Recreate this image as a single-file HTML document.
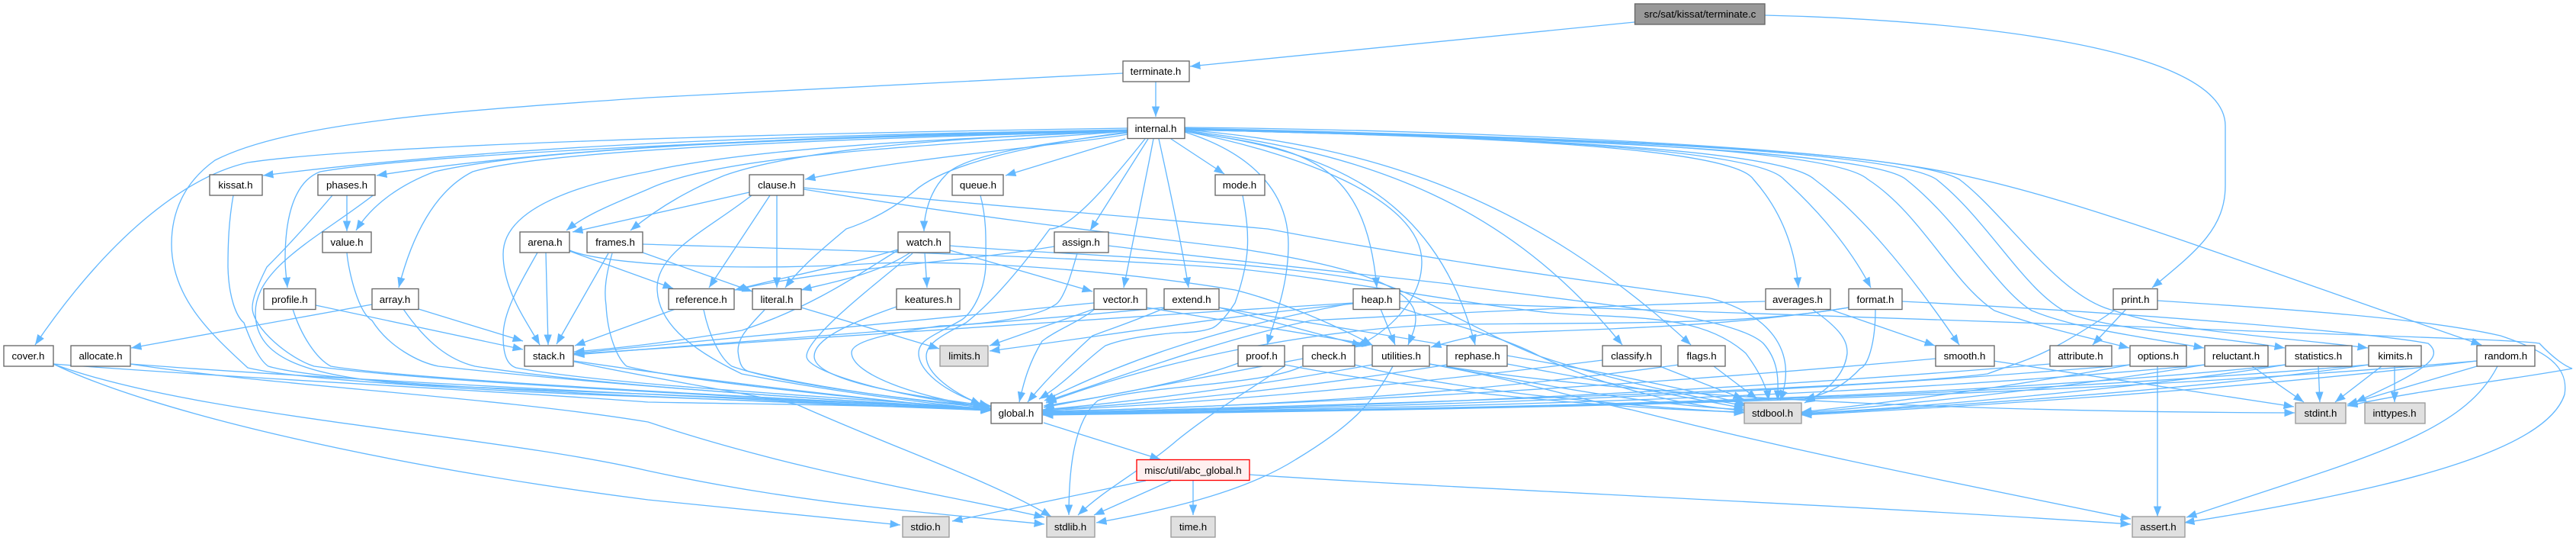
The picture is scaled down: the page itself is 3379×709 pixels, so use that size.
<!DOCTYPE html>
<html><head><meta charset="utf-8"><style>
html,body{margin:0;padding:0;background:#fff}
svg{display:block}
.e path{fill:none;stroke:#63b8ff;stroke-width:1.33;marker-end:url(#a)}
.n rect{fill:#fff;stroke:#666;stroke-width:1.33}
.n rect.g{fill:#e0e0e0;stroke:#999}
.n rect.r{fill:#999;stroke:#666}
.n rect.x{fill:#fff0f0;stroke:#f00}
.n text{font:13.33px "Liberation Sans",sans-serif;text-anchor:middle;fill:#000}
</style></head><body>
<svg xmlns="http://www.w3.org/2000/svg" width="3379" height="709" viewBox="0 0 3379 709">
<defs><marker id="a" markerUnits="userSpaceOnUse" markerWidth="14" markerHeight="11" refX="13.5" refY="5.2" orient="auto"><polygon points="0,0 13.5,5.2 0,10.4" fill="#63b8ff"/></marker></defs>
<g class="e">
<path d="M2144 29L1561 87"/>
<path d="M2315 20C2500 24 2919 50 2919 165L2919 243C2919 300 2880 330 2823 377"/>
<path d="M1473 96L850 128C600 145 380 160 282 210C240 240 225 280 225 320C225 390 276 437 325 482C400 500 700 515 850 520C1000 525 1150 530 1300 537"/>
<path d="M1516 107L1516 153"/>
<path d="M1479 168C1000 175 480 190 325 213C250 230 150 300 46 452"/>
<path d="M1479 170C1150 176 720 183 345 230"/>
<path d="M1479 171C1150 176 760 188 494 230"/>
<path d="M1479 171C1150 176 560 200 420 225C380 240 374 300 374 340C374 355 376 365 377 377"/>
<path d="M1479 172C1150 178 720 190 570 225C530 240 490 265 467 302"/>
<path d="M1479 172C1150 180 720 195 620 225C570 250 540 310 523 377"/>
<path d="M1479 172C1300 180 1000 190 850 225C770 240 660 270 660 333C660 380 690 420 708 452"/>
<path d="M1479 172C1250 190 950 200 850 248C810 265 770 280 743 302"/>
<path d="M1479 172C1250 180 1050 195 950 230C900 250 860 275 827 302"/>
<path d="M1479 176C1400 190 1200 205 1056 235"/>
<path d="M1476 182L1319 230"/>
<path d="M1536 182L1606 228"/>
<path d="M1479 174C1350 190 1260 205 1240 230C1220 250 1212 280 1212 303"/>
<path d="M1506 182L1430 302"/>
<path d="M1479 173C1350 190 1240 215 1200 250C1170 275 1140 290 1110 300C1080 325 1050 350 1030 377"/>
<path d="M1502 182C1440 260 1400 300 1377 300C1355 330 1310 390 1267 423C1235 440 1215 450 1215 467C1215 490 1250 515 1287 530"/>
<path d="M1513 182C1500 250 1485 320 1474 377"/>
<path d="M1520 182C1535 250 1550 320 1559 377"/>
<path d="M1554 173C1640 200 1690 250 1690 320C1690 370 1675 410 1662 452"/>
<path d="M1554 172C1700 195 1790 200 1806 377"/>
<path d="M1554 172C1700 200 1865 260 1865 343C1865 395 1820 435 1778 455"/>
<path d="M1554 172C1720 195 1880 240 1935 452"/>
<path d="M1554 171C1800 200 1980 270 2128 452"/>
<path d="M1554 170C1800 190 2010 260 2218 452"/>
<path d="M1554 170C1900 178 2270 190 2300 235C2340 280 2355 330 2359 377"/>
<path d="M1554 170C1900 178 2300 190 2340 235C2390 280 2430 330 2454 377"/>
<path d="M1554 170C1900 178 2330 190 2380 235C2440 280 2500 350 2570 452"/>
<path d="M1554 170C1950 178 2400 190 2450 235C2520 280 2560 370 2616 407C2680 430 2730 440 2793 456"/>
<path d="M1554 170C1950 178 2450 195 2500 235C2570 290 2620 380 2665 407C2720 430 2800 440 2891 456"/>
<path d="M1554 169C2000 178 2480 195 2540 235C2610 290 2660 390 2719 413C2790 435 2900 440 2997 456"/>
<path d="M1554 168C2000 178 2500 195 2570 235C2630 280 2700 390 2773 407C2850 435 2980 440 3106 456"/>
<path d="M1554 167C1900 170 2350 190 2529 221C2700 250 2900 330 3255 452"/>
<path d="M983 252L751 304"/>
<path d="M1010 256L930 377"/>
<path d="M1019 256L1019 377"/>
<path d="M986 256C930 300 862 330 862 377C862 420 900 455 973 490C1100 515 1230 530 1300 537"/>
<path d="M1054 246C1300 270 1500 285 1663 300C1900 345 2100 370 2240 390C2320 410 2360 460 2335 525"/>
<path d="M1054 248C1250 280 1450 305 1620 325C1750 345 1857 370 1857 417C1857 430 1852 440 1847 452"/>
<path d="M747 329L883 378"/>
<path d="M716 331L719 452"/>
<path d="M705 331C680 375 660 410 660 440C660 465 665 478 677 482C800 505 1100 520 1300 536"/>
<path d="M747 328C800 350 1000 355 1150 345C1300 340 1500 360 1620 380C1680 395 1750 425 1800 452"/>
<path d="M798 332L730 451"/>
<path d="M803 332C795 360 792 380 795 400C797 440 810 470 822 480C900 500 1150 525 1300 537"/>
<path d="M843 331L987 382"/>
<path d="M843 320C1000 325 1400 335 1620 352C1750 365 1900 395 2033 410C2140 418 2230 410 2290 463C2310 490 2318 510 2320 525"/>
<path d="M886 405L754 453"/>
<path d="M923 406C930 440 945 470 960 480C1030 505 1200 525 1300 533"/>
<path d="M1003 406C975 435 968 445 968 460C970 480 975 485 983 487C1080 510 1200 525 1300 535"/>
<path d="M1051 403L1232 457"/>
<path d="M1286 256C1295 290 1293 320 1293 350C1290 390 1270 415 1260 420C1225 440 1205 445 1205 463C1205 490 1250 520 1298 532"/>
<path d="M1630 256C1640 310 1640 340 1620 397C1605 420 1595 428 1590 430C1570 437 1550 435 1533 437C1500 440 1470 445 1450 453C1420 475 1400 500 1363 523"/>
<path d="M1178 327C1100 350 1020 365 964 380"/>
<path d="M1383 323C1250 345 1100 350 964 380"/>
<path d="M1194 331C1150 360 1090 370 1051 380"/>
<path d="M1178 328C1140 350 1073 400 973 433C900 445 830 455 753 461"/>
<path d="M1197 332C1164 360 1058 440 1058 467C1058 490 1200 525 1300 533"/>
<path d="M1213 331L1216 377"/>
<path d="M1246 328L1433 382"/>
<path d="M1246 322C1400 335 1650 340 1807 370C1860 385 1950 440 2020 467C2120 500 2220 520 2290 532"/>
<path d="M1454 322C1600 340 1750 355 1900 372C2050 395 2270 410 2313 450C2335 475 2332 500 2332 525"/>
<path d="M1413 332C1405 360 1395 395 1383 400C1360 415 1300 425 1233 427C1180 435 1117 445 1117 462C1117 490 1200 520 1290 533"/>
<path d="M1176 402C1110 425 1068 445 1068 467C1068 500 1200 520 1300 532"/>
<path d="M492 254C420 310 335 350 335 410C335 470 400 495 560 505C800 515 1100 525 1300 538"/>
<path d="M306 256C300 290 299 320 299 350C300 390 310 415 320 423C330 450 340 472 352 480C420 500 700 515 1300 538"/>
<path d="M436 256C390 310 360 340 350 350C340 370 331 390 331 403C331 430 380 470 412 480C600 505 1100 525 1300 537"/>
<path d="M455 256L455 303"/>
<path d="M455 331C457 355 470 410 488 420C510 455 550 475 575 480C800 505 1100 525 1300 537"/>
<path d="M414 400L686 458"/>
<path d="M384 405C395 440 415 470 434 480C550 500 1100 525 1300 537"/>
<path d="M488 399L172 456"/>
<path d="M549 405L686 447"/>
<path d="M529 405C560 450 590 472 623 480C780 505 1100 525 1300 536"/>
<path d="M70 477C300 495 700 515 850 527C1000 530 1150 530 1300 538"/>
<path d="M70 477C250 545 650 570 850 617C1050 660 1200 670 1370 687"/>
<path d="M70 477C200 540 500 610 850 655C1000 670 1100 680 1181 688"/>
<path d="M171 477C400 495 800 515 1300 538"/>
<path d="M171 477C350 505 650 520 850 553C1050 620 1250 650 1370 678"/>
<path d="M753 473C900 495 1100 520 1300 538"/>
<path d="M753 474C850 495 950 510 1045 530C1180 590 1300 630 1379 677"/>
<path d="M1435 406C1410 425 1390 430 1367 447C1350 475 1343 500 1337 527"/>
<path d="M1435 397C1200 420 1000 440 753 463"/>
<path d="M1435 405L1298 453"/>
<path d="M1504 403L1800 452"/>
<path d="M1527 404C1490 420 1460 430 1433 440C1400 470 1370 500 1348 527"/>
<path d="M1527 403C1300 425 1000 445 753 465"/>
<path d="M1599 403L1787 453"/>
<path d="M1599 403C1750 430 2100 480 2290 530"/>
<path d="M1775 397C1400 420 1000 445 753 464"/>
<path d="M1775 397C1600 430 1480 470 1370 525"/>
<path d="M1811 405L1830 452"/>
<path d="M1775 398C1600 415 1450 440 1298 460"/>
<path d="M1836 395C2100 405 2500 417 2854 430C3100 440 3300 445 3331 450C3350 470 3365 480 3374 483C3280 500 3180 510 3079 532"/>
<path d="M1836 403C1900 425 1970 440 2020 467C2080 495 2180 530 2288 538"/>
<path d="M1708 480C1660 505 1500 505 1440 525C1410 550 1402 610 1402 675"/>
<path d="M1624 476C1560 500 1450 520 1369 532"/>
<path d="M1685 478C1850 510 2100 535 2288 540"/>
<path d="M1709 470L1369 534"/>
<path d="M1777 478C1900 510 2100 530 2288 541"/>
<path d="M1685 480C1640 510 1590 540 1544 577C1500 615 1450 640 1414 675"/>
<path d="M1800 478C1650 505 1500 525 1368 537"/>
<path d="M1827 480C1800 530 1770 560 1700 602C1640 640 1550 665 1438 685"/>
<path d="M1875 477C2000 500 2100 530 2140 537C2350 590 2500 620 2795 680"/>
<path d="M1875 477C2000 500 2150 530 2288 537"/>
<path d="M1875 477C2200 530 2700 540 3010 541"/>
<path d="M1898 478C1700 510 1500 530 1368 537"/>
<path d="M1977 477L2288 535"/>
<path d="M2102 472C1800 510 1550 530 1368 538"/>
<path d="M2177 480L2287 523"/>
<path d="M2202 478C1900 520 1600 535 1368 539"/>
<path d="M2248 480L2305 523"/>
<path d="M2539 470C2100 510 1700 530 1368 540"/>
<path d="M2615 473L3009 533"/>
<path d="M2315 395C2100 400 1853 413 1720 420C1600 445 1480 490 1372 526"/>
<path d="M2378 406C2420 435 2423 450 2423 463C2420 490 2400 510 2367 528"/>
<path d="M2402 406L2538 453"/>
<path d="M2425 403C2300 425 2140 423 1900 425C1700 432 1500 480 1372 528"/>
<path d="M2425 403C2273 427 2140 430 1953 437C1920 443 1900 448 1877 455"/>
<path d="M2460 406C2460 450 2450 480 2440 483C2420 505 2400 515 2367 523"/>
<path d="M2495 395C2800 410 3100 435 3185 450C3210 470 3170 490 3090 527"/>
<path d="M2789 405L2745 452"/>
<path d="M2773 407C2680 470 2660 470 2607 490C2450 510 1800 530 1368 541"/>
<path d="M2830 394C3000 405 3180 417 3280 440C3340 460 3370 480 3364 517C3340 590 3150 640 2865 685"/>
<path d="M2689 477C2300 510 1800 535 1368 541"/>
<path d="M2794 478C2300 520 1800 535 1368 541"/>
<path d="M2794 478C2650 505 2500 525 2363 540"/>
<path d="M2830 480L2830 677"/>
<path d="M2892 478C2400 525 1800 536 1368 542"/>
<path d="M2892 478C2700 510 2500 530 2363 541"/>
<path d="M2954 480L3022 527"/>
<path d="M2998 478C2500 530 1800 537 1368 542"/>
<path d="M2998 478C2800 510 2500 535 2363 542"/>
<path d="M3041 480L3043 527"/>
<path d="M3107 478C2500 530 1800 538 1368 543"/>
<path d="M3107 478C2850 515 2500 535 2363 543"/>
<path d="M3124 480L3063 527"/>
<path d="M3141 480L3141 527"/>
<path d="M3249 473C2600 530 1800 538 1368 544"/>
<path d="M3249 473C2900 515 2500 537 2363 544"/>
<path d="M3249 480L3079 530"/>
<path d="M3276 480C3230 570 3100 600 2868 678"/>
<path d="M1369 554L1522 602"/>
<path d="M1503 630L1249 683"/>
<path d="M1536 630L1435 675"/>
<path d="M1565 630L1565 675"/>
<path d="M1639 622C1900 640 2400 660 2795 687"/>
</g>
<g class="n">
<rect class="r" x="2144.5" y="5" width="170.5" height="27"/><text x="2230" y="23">src/sat/kissat/terminate.c</text>
<rect x="1473" y="80" width="87" height="27"/><text x="1516" y="98">terminate.h</text>
<rect x="1479" y="154.500" width="75" height="27"/><text x="1516" y="173">internal.h</text>
<rect x="275" y="229" width="69" height="27"/><text x="309" y="247">kissat.h</text>
<rect x="417" y="229" width="75" height="27"/><text x="455" y="247">phases.h</text>
<rect x="983" y="229" width="71" height="27"/><text x="1019" y="247">clause.h</text>
<rect x="1249" y="229" width="67" height="27"/><text x="1283" y="247">queue.h</text>
<rect x="1594" y="229" width="65" height="27"/><text x="1626" y="247">mode.h</text>
<rect x="423" y="304" width="64" height="27"/><text x="455" y="322">value.h</text>
<rect x="682" y="304" width="65" height="27"/><text x="715" y="322">arena.h</text>
<rect x="770" y="304" width="73" height="27"/><text x="807" y="322">frames.h</text>
<rect x="1178" y="304" width="68" height="27"/><text x="1212" y="322">watch.h</text>
<rect x="1383" y="304" width="71" height="27"/><text x="1418" y="322">assign.h</text>
<rect x="346" y="378.500" width="68" height="27"/><text x="380" y="397">profile.h</text>
<rect x="488" y="378.500" width="61" height="27"/><text x="518" y="397">array.h</text>
<rect x="877" y="378.500" width="86" height="27"/><text x="920" y="397">reference.h</text>
<rect x="987" y="378.500" width="64" height="27"/><text x="1019" y="397">literal.h</text>
<rect x="1176" y="378.500" width="83" height="27"/><text x="1218" y="397">keatures.h</text>
<rect x="1435" y="378.500" width="69" height="27"/><text x="1470" y="397">vector.h</text>
<rect x="1527" y="378.500" width="72" height="27"/><text x="1563" y="397">extend.h</text>
<rect x="1775" y="378.500" width="61" height="27"/><text x="1806" y="397">heap.h</text>
<rect x="2316" y="378.500" width="85" height="27"/><text x="2358" y="397">averages.h</text>
<rect x="2425" y="378.500" width="70" height="27"/><text x="2460" y="397">format.h</text>
<rect x="2772" y="378.500" width="58" height="27"/><text x="2801" y="397">print.h</text>
<rect x="5" y="453" width="65" height="27"/><text x="37" y="471">cover.h</text>
<rect x="93" y="453" width="78" height="27"/><text x="132" y="471">allocate.h</text>
<rect x="688" y="453" width="64" height="27"/><text x="720" y="471">stack.h</text>
<rect class="g" x="1233" y="453" width="63" height="27"/><text x="1265" y="471">limits.h</text>
<rect x="1624" y="453" width="61" height="27"/><text x="1655" y="471">proof.h</text>
<rect x="1709" y="453" width="68" height="27"/><text x="1743" y="471">check.h</text>
<rect x="1800" y="453" width="75" height="27"/><text x="1838" y="471">utilities.h</text>
<rect x="1898" y="453" width="79" height="27"/><text x="1938" y="471">rephase.h</text>
<rect x="2102" y="453" width="77" height="27"/><text x="2140" y="471">classify.h</text>
<rect x="2201" y="453" width="62" height="27"/><text x="2232" y="471">flags.h</text>
<rect x="2539" y="453" width="77" height="27"/><text x="2577" y="471">smooth.h</text>
<rect x="2689" y="453" width="81" height="27"/><text x="2729" y="471">attribute.h</text>
<rect x="2794" y="453" width="74" height="27"/><text x="2831" y="471">options.h</text>
<rect x="2892" y="453" width="83" height="27"/><text x="2933" y="471">reluctant.h</text>
<rect x="2998" y="453" width="87" height="27"/><text x="3041" y="471">statistics.h</text>
<rect x="3107" y="453" width="69" height="27"/><text x="3142" y="471">kimits.h</text>
<rect x="3249" y="453" width="76" height="27"/><text x="3287" y="471">random.h</text>
<rect x="1300" y="528" width="67" height="27"/><text x="1333" y="546">global.h</text>
<rect class="g" x="2288" y="528" width="75" height="27"/><text x="2325" y="546">stdbool.h</text>
<rect class="g" x="3011" y="528" width="66" height="27"/><text x="3044" y="546">stdint.h</text>
<rect class="g" x="3102" y="528" width="79" height="27"/><text x="3141" y="546">inttypes.h</text>
<rect class="x" x="1491" y="602.500" width="148" height="27"/><text x="1565" y="621">misc/util/abc_global.h</text>
<rect class="g" x="1184" y="677" width="61" height="27"/><text x="1214" y="695">stdio.h</text>
<rect class="g" x="1373" y="677" width="63" height="27"/><text x="1404" y="695">stdlib.h</text>
<rect class="g" x="1536" y="677" width="58" height="27"/><text x="1565" y="695">time.h</text>
<rect class="g" x="2797" y="677" width="69" height="27"/><text x="2831" y="695">assert.h</text>
</g>
</svg>
</body></html>
